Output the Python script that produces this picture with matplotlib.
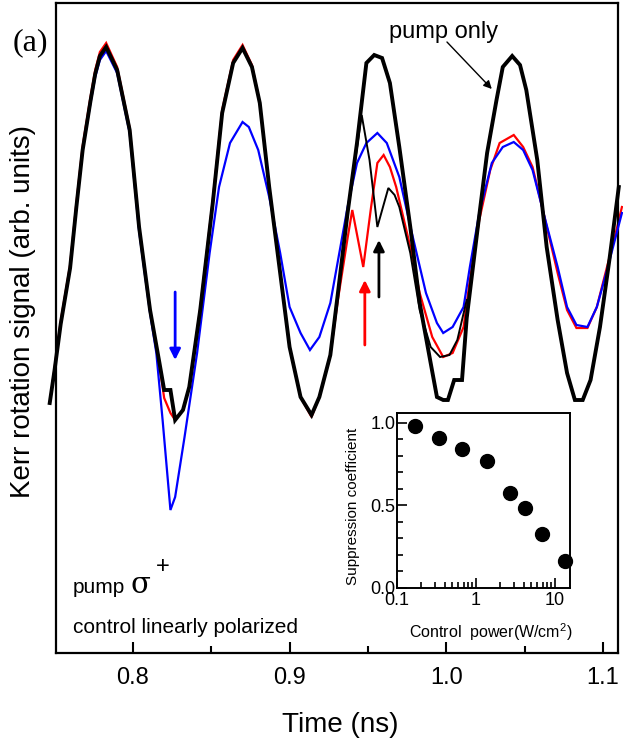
import matplotlib
matplotlib.use("Agg")
import matplotlib.pyplot as plt
from matplotlib import font_manager
from matplotlib.ticker import MultipleLocator, FixedLocator, NullFormatter

names = {f.name for f in font_manager.fontManager.ttflist}
sans = "Liberation Sans Narrow" if "Liberation Sans Narrow" in names else "Liberation Sans"
plt.rcParams["font.family"] = [sans, "DejaVu Sans"]
plt.rcParams["mathtext.fontset"] = "custom"
plt.rcParams["mathtext.rm"] = sans

# ---- main panel data (time in ns, Kerr signal in arb. units) ----
t_pump = [0.747, 0.750, 0.754, 0.760, 0.764, 0.768, 0.773, 0.776, 0.779, 0.783,
          0.790, 0.798, 0.804, 0.811,
          0.817, 0.820, 0.824, 0.827, 0.832, 0.836, 0.843, 0.851, 0.857, 0.864,
          0.870, 0.876, 0.881, 0.887, 0.894, 0.900, 0.907, 0.914, 0.919, 0.926,
          0.931, 0.937, 0.943, 0.949, 0.954, 0.959, 0.964, 0.970, 0.977, 0.983,
          0.990, 0.994, 0.998, 1.001, 1.005, 1.010, 1.013, 1.020, 1.026, 1.032,
          1.036, 1.042, 1.047, 1.051, 1.058, 1.064, 1.071, 1.077, 1.082, 1.087,
          1.092, 1.098, 1.104, 1.110]
kerr_pump = [2.50, 2.82, 3.29, 3.85, 4.46, 5.03, 5.52, 5.79, 5.97, 6.06,
             5.83, 5.23, 4.26, 3.43,
             2.90, 2.63, 2.63, 2.33, 2.43, 2.66, 3.43, 4.50, 5.40, 5.90,
             6.05, 5.86, 5.50, 4.66, 3.80, 3.06, 2.56, 2.38, 2.56, 2.98,
             3.62, 4.40, 5.10, 5.90, 5.98, 5.95, 5.70, 5.06, 4.26, 3.50,
             2.90, 2.56, 2.53, 2.53, 2.73, 2.73, 3.35, 4.25, 5.00, 5.53,
             5.86, 5.97, 5.88, 5.63, 4.93, 4.06, 3.33, 2.80, 2.53, 2.53,
             2.73, 3.26, 3.93, 4.66]

t_red = [0.747, 0.750, 0.754, 0.760, 0.764, 0.768, 0.773, 0.776, 0.779, 0.783,
         0.790, 0.798, 0.804, 0.811,
         0.817, 0.820, 0.824, 0.827, 0.832, 0.836, 0.843, 0.851, 0.857, 0.864,
         0.870, 0.876, 0.881, 0.887, 0.894, 0.900, 0.907, 0.914, 0.919, 0.926,
         0.931, 0.937, 0.940, 0.947, 0.952, 0.956, 0.960, 0.964, 0.968, 0.977,
         0.983, 0.991, 0.998, 1.004, 1.011, 1.015, 1.021, 1.028, 1.034, 1.043,
         1.049, 1.055, 1.062, 1.071, 1.077, 1.083, 1.090, 1.096, 1.102, 1.109,
         1.112]
kerr_red = [2.50, 2.84, 3.32, 3.88, 4.50, 5.07, 5.56, 5.83, 6.01, 6.10,
            5.86, 5.25, 4.26, 3.43,
            2.88, 2.55, 2.40, 2.33, 2.43, 2.66, 3.45, 4.53, 5.43, 5.93,
            6.08, 5.88, 5.50, 4.66, 3.80, 3.06, 2.56, 2.36, 2.56, 2.98,
            3.55, 4.15, 4.43, 3.86, 4.46, 4.90, 4.98, 4.86, 4.66, 4.06,
            3.60, 3.16, 2.96, 3.00, 3.26, 3.73, 4.33, 4.83, 5.10, 5.18,
            5.06, 4.86, 4.40, 3.80, 3.43, 3.25, 3.25, 3.46, 3.83, 4.26,
            4.46]

t_blue = [0.747, 0.750, 0.754, 0.760, 0.764, 0.768, 0.773, 0.776, 0.779, 0.783,
          0.790, 0.798, 0.804, 0.811,
          0.815, 0.819, 0.824, 0.827, 0.833, 0.841, 0.849, 0.855, 0.862, 0.870,
          0.874, 0.880, 0.887, 0.894, 0.900, 0.907, 0.913, 0.919, 0.926, 0.937,
          0.943, 0.949, 0.956, 0.962, 0.970, 0.978, 0.987, 0.994, 0.998, 1.004,
          1.011, 1.015, 1.021, 1.029, 1.036, 1.043, 1.049, 1.055, 1.062, 1.071,
          1.077, 1.083, 1.090, 1.096, 1.102, 1.112]
kerr_blue = [2.50, 2.82, 3.29, 3.85, 4.46, 5.03, 5.50, 5.76, 5.93, 6.02,
             5.80, 5.20, 4.22, 3.40,
             3.00, 2.33, 1.43, 1.56, 2.16, 3.00, 4.00, 4.66, 5.10, 5.31,
             5.26, 5.03, 4.56, 4.00, 3.46, 3.20, 3.03, 3.16, 3.50, 4.46,
             4.90, 5.10, 5.20, 5.10, 4.76, 4.20, 3.60, 3.30, 3.20, 3.26,
             3.46, 3.86, 4.40, 4.90, 5.06, 5.11, 5.03, 4.83, 4.40, 3.86,
             3.46, 3.28, 3.26, 3.46, 3.80, 4.40]

t_thin = [0.931, 0.937, 0.943, 0.946, 0.951, 0.956, 0.963, 0.967, 0.970, 0.977,
          0.983, 0.990, 0.996, 1.002, 1.007, 1.013]
kerr_thin = [3.62, 4.40, 5.05, 5.38, 4.93, 4.26, 4.65, 4.58, 4.46, 4.00,
             3.43, 3.06, 2.96, 2.98, 3.13, 3.53]

# ---- inset data ----
control_power = [0.17, 0.34, 0.67, 1.36, 2.67, 4.15, 6.8, 13.4]
suppression = [0.98, 0.91, 0.84, 0.77, 0.575, 0.485, 0.33, 0.165]

fig = plt.figure(figsize=(6.23, 7.49), dpi=100)
ax = fig.add_axes([56 / 623, 96 / 749, 562 / 623, 650 / 749])

line_kw = {"clip_on": False, "solid_joinstyle": "miter"}
ax.plot(t_red, kerr_red, color="#ff0000", lw=1.6, zorder=2, **line_kw)
ax.plot(t_blue, kerr_blue, color="#0000ff", lw=1.6, zorder=3, **line_kw)
ax.plot(t_thin, kerr_thin, color="black", lw=1.4, zorder=4, **line_kw)
ax.plot(t_pump, kerr_pump, color="black", lw=2.8, zorder=5, **line_kw)

ax.set_xlim(0.751, 1.1095)
ax.set_ylim(0, 6.5)
ax.xaxis.set_major_locator(FixedLocator([0.8, 0.9, 1.0, 1.1]))
ax.xaxis.set_minor_locator(FixedLocator([0.85, 0.95, 1.05]))
ax.set_xticklabels(["0.8", "0.9", "1.0", "1.1"])
ax.set_yticks([])
ax.tick_params(axis="x", which="major", direction="in", length=8, width=1.5,
               labelsize=17, pad=10)
ax.tick_params(axis="x", which="minor", direction="in", length=5, width=1.5)
for sp in ax.spines.values():
    sp.set_linewidth(1.6)

ax.text(0.505, -0.09, "Time (ns)", transform=ax.transAxes, ha="center",
        va="top", fontsize=20)
ax.text(-0.059, 0.525, "Kerr rotation signal (arb. units)", transform=ax.transAxes,
        rotation=90, ha="center", va="center", fontsize=20)

fig.text(30 / 623, 1 - 43 / 749, "(a)", family=["Liberation Serif", "DejaVu Serif"],
         fontsize=23, ha="center", va="center")

# annotations
ax.text(0.998, 6.21, "pump only", ha="center", va="center", fontsize=17)
ax.annotate("", xy=(1.029, 5.64), xytext=(1.0004, 6.11),
            arrowprops=dict(arrowstyle="-|>", color="black", lw=1.0,
                            shrinkA=0, shrinkB=0, mutation_scale=12))
ax.annotate("", xy=(0.827, 2.93), xytext=(0.827, 3.61),
            arrowprops=dict(arrowstyle="-|>", color="#0000ff", lw=2.0,
                            shrinkA=0, shrinkB=0, mutation_scale=16))
ax.annotate("", xy=(0.948, 3.73), xytext=(0.948, 3.08),
            arrowprops=dict(arrowstyle="-|>", color="#ff0000", lw=2.0,
                            shrinkA=0, shrinkB=0, mutation_scale=16))
ax.annotate("", xy=(0.957, 4.13), xytext=(0.957, 3.56),
            arrowprops=dict(arrowstyle="-|>", color="black", lw=2.0,
                            shrinkA=0, shrinkB=0, mutation_scale=16))

ax.text(17 / 562, 60 / 650, "pump", transform=ax.transAxes, fontsize=15,
        ha="left", va="baseline")
ax.text(74 / 562, 60 / 650, "σ", transform=ax.transAxes, fontsize=21,
        family=["DejaVu Serif"], ha="left", va="baseline")
ax.text(100 / 562, 80 / 650, "+", transform=ax.transAxes, fontsize=17,
        ha="left", va="baseline")
ax.text(17 / 562, 20 / 650, "control linearly polarized", transform=ax.transAxes,
        fontsize=15, ha="left", va="baseline")

# ---- inset ----
ins = fig.add_axes([397 / 623, 161 / 749, 173 / 623, 175 / 749])
ins.plot(control_power, suppression, "o", color="black", ms=10, clip_on=False)
ins.set_xscale("log")
ins.set_xlim(0.1, 15.5)
ins.set_ylim(0, 1.06)
ins.yaxis.set_major_locator(FixedLocator([0.0, 0.5, 1.0]))
ins.yaxis.set_minor_locator(MultipleLocator(0.1))
ins.set_yticklabels(["0.0", "0.5", "1.0"])
ins.set_xticks([0.1, 1, 10])
ins.set_xticklabels(["0.1", "1", "10"])
ins.xaxis.set_minor_formatter(NullFormatter())
ins.tick_params(which="major", direction="in", length=7, width=1.2,
                labelsize=13, pad=3)
ins.tick_params(which="minor", direction="in", length=4, width=1.2)
ins.tick_params(axis="y", which="major", pad=1)
for sp in ins.spines.values():
    sp.set_linewidth(1.4)
ins.set_ylabel("Suppression coefficient", fontsize=11)
ins.yaxis.set_label_coords(-0.214, 0.469)
ins.set_xlabel(r"Control  power(W/cm$^2$)", fontsize=11.5)
ins.xaxis.set_label_coords(0.54, -0.19)

fig.savefig("out.png", dpi=100)
